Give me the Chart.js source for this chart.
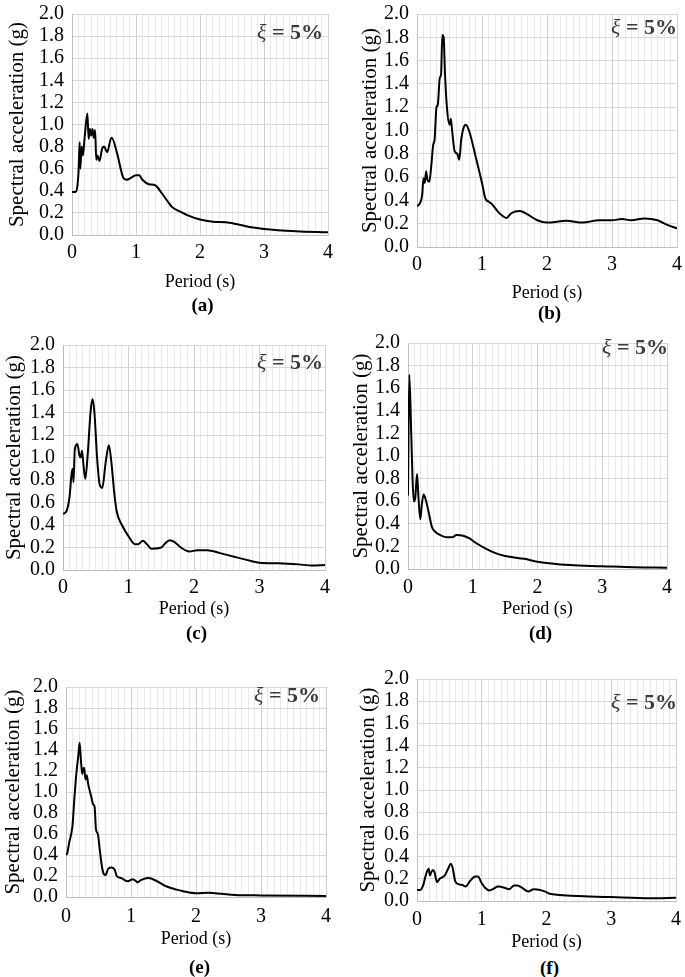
<!DOCTYPE html>
<html>
<head>
<meta charset="utf-8">
<script src="https://cdn.jsdelivr.net/npm/chart.js@4/dist/chart.umd.min.js"></script>
<style>
  html, body { margin: 0; padding: 0; background: #fff; width: 685px; height: 977px; overflow: hidden; }
  canvas { position: absolute; }
  .lab { position: absolute; font-family: 'Liberation Serif', 'Times New Roman', serif; font-weight: bold; font-size: 19px; color: #000; transform: translate(-50%, -50%); white-space: nowrap; }
  .xi { position: absolute; font-family: 'Liberation Serif', 'Times New Roman', serif; font-weight: bold; font-size: 22px; color: #3a3a3a; transform: translate(-100%, -50%); white-space: nowrap; }
  .xi i { font-weight: normal; }
</style>
</head>
<body>
<script>
// ---- Data (period in s, spectral acceleration in g) ----
const periodsA = [0,0.05,0.1,0.12,0.13,0.15,0.17,0.2,0.24,0.26,0.28,0.3,0.32,0.34,0.36,0.38,0.4,0.43,0.47,0.5,0.55,0.6,0.62,0.7,0.8,0.85,0.9,1.0,1.05,1.1,1.2,1.3,1.4,1.5,1.57,1.7,1.8,2.0,2.2,2.4,2.6,2.8,3.0,3.5,4.0];
const saA = [0.39,0.39,0.55,0.84,0.6,0.8,0.72,0.9,1.10,0.87,0.96,0.9,0.96,0.88,0.95,0.68,0.72,0.67,0.78,0.8,0.75,0.86,0.88,0.75,0.52,0.5,0.51,0.54,0.54,0.5,0.46,0.45,0.38,0.3,0.25,0.21,0.18,0.14,0.12,0.115,0.095,0.07,0.055,0.035,0.025];

const periodsB = [0,0.05,0.08,0.1,0.12,0.14,0.16,0.19,0.22,0.25,0.27,0.3,0.32,0.35,0.37,0.39,0.41,0.43,0.46,0.5,0.52,0.54,0.58,0.62,0.65,0.68,0.72,0.75,0.8,0.9,1.0,1.05,1.1,1.15,1.25,1.38,1.45,1.58,1.7,1.85,2.0,2.3,2.55,2.8,3.0,3.15,3.3,3.5,3.7,3.85,4.0];
const saB = [0.35,0.38,0.45,0.59,0.55,0.65,0.58,0.56,0.7,0.88,0.92,1.2,1.22,1.45,1.48,1.82,1.8,1.5,1.2,1.05,1.1,1.0,0.82,0.8,0.75,0.92,1.03,1.05,1.0,0.78,0.55,0.42,0.39,0.37,0.3,0.25,0.29,0.31,0.28,0.23,0.21,0.225,0.21,0.23,0.23,0.24,0.23,0.245,0.23,0.19,0.16];

const periodsC = [0,0.05,0.1,0.13,0.15,0.16,0.18,0.22,0.25,0.27,0.29,0.31,0.34,0.38,0.42,0.45,0.48,0.52,0.56,0.6,0.65,0.7,0.74,0.78,0.82,0.9,1.0,1.1,1.15,1.22,1.28,1.35,1.5,1.55,1.63,1.7,1.8,1.93,2.05,2.2,2.4,2.6,2.8,3.0,3.3,3.6,3.8,4.0];
const saC = [0.5,0.52,0.65,0.85,0.9,0.78,1.07,1.12,1.02,1.0,1.06,0.95,0.81,1.05,1.4,1.52,1.4,1.0,0.76,0.73,0.95,1.11,0.95,0.7,0.52,0.4,0.3,0.23,0.23,0.26,0.23,0.19,0.2,0.23,0.265,0.25,0.2,0.165,0.175,0.175,0.15,0.12,0.09,0.065,0.06,0.05,0.04,0.045];

const periodsD = [0,0.02,0.05,0.07,0.09,0.11,0.14,0.16,0.19,0.21,0.24,0.28,0.32,0.37,0.42,0.5,0.6,0.68,0.75,0.85,0.95,1.05,1.2,1.35,1.5,1.8,2.0,2.5,3.0,3.5,4.0];
const saD = [0.65,1.72,1.2,0.8,0.6,0.62,0.84,0.65,0.44,0.55,0.66,0.6,0.5,0.37,0.33,0.3,0.28,0.28,0.3,0.295,0.27,0.23,0.18,0.14,0.115,0.09,0.065,0.035,0.025,0.015,0.012];

const periodsE = [0,0.02,0.05,0.08,0.1,0.13,0.16,0.19,0.21,0.23,0.25,0.26,0.28,0.3,0.32,0.34,0.37,0.39,0.42,0.44,0.46,0.49,0.52,0.55,0.58,0.61,0.65,0.7,0.75,0.78,0.85,0.95,1.03,1.08,1.1,1.15,1.27,1.4,1.55,1.7,1.8,2.0,2.2,2.4,2.6,3.0,4.0];
const saE = [0.4,0.42,0.52,0.6,0.68,0.95,1.18,1.35,1.47,1.3,1.17,1.21,1.23,1.12,1.16,1.08,1.0,0.95,0.88,0.86,0.65,0.6,0.45,0.3,0.22,0.21,0.27,0.28,0.26,0.2,0.18,0.15,0.17,0.15,0.14,0.16,0.18,0.15,0.1,0.07,0.055,0.035,0.04,0.03,0.02,0.015,0.01];

const periodsF = [0,0.05,0.1,0.13,0.18,0.2,0.22,0.25,0.27,0.31,0.35,0.43,0.48,0.52,0.55,0.59,0.65,0.7,0.75,0.82,0.9,0.94,1.0,1.05,1.12,1.18,1.25,1.35,1.42,1.5,1.55,1.62,1.72,1.8,1.9,1.98,2.05,2.2,2.5,3.0,3.6,4.0];
const saF = [0.1,0.1,0.15,0.22,0.29,0.23,0.26,0.28,0.26,0.17,0.2,0.23,0.29,0.335,0.3,0.18,0.15,0.145,0.13,0.18,0.22,0.22,0.16,0.12,0.095,0.11,0.13,0.12,0.105,0.14,0.14,0.12,0.085,0.105,0.1,0.085,0.065,0.055,0.045,0.035,0.025,0.03];

const panelLabels = ['(a)', '(b)', '(c)', '(d)', '(e)', '(f)'];
const xTitle = 'Period (s)';
const yTitle = 'Spectral acceleration (g)';
const dampingText = '= 5%';

// ---- Layout (pixel geometry of each panel) ----
const panels = [
  { px: periodsA, sa: saA, cx: 0,   L: 72,  R: 333, T: 7,   B: 235, tickCY: 253, titleCY: 282, labCY: 305, yTitleCX: 17,  xiR: 323, xiCY: 32 },
  { px: periodsB, sa: saB, cx: 345, L: 417, R: 682, T: 7,   B: 247, tickCY: 265, titleCY: 293, labCY: 313, yTitleCX: 370, xiR: 677, xiCY: 27 },
  { px: periodsC, sa: saC, cx: 0,   L: 63,  R: 330, T: 338, B: 570, tickCY: 588, titleCY: 609, labCY: 633, yTitleCX: 14,  xiR: 323, xiCY: 362 },
  { px: periodsD, sa: saD, cx: 345, L: 408, R: 673, T: 336, B: 569, tickCY: 588, titleCY: 609, labCY: 633, yTitleCX: 361, xiR: 668, xiCY: 347 },
  { px: periodsE, sa: saE, cx: 0,   L: 66,  R: 333, T: 680, B: 897, tickCY: 917, titleCY: 939, labCY: 967, yTitleCX: 13,  xiR: 320, xiCY: 695 },
  { px: periodsF, sa: saF, cx: 345, L: 417, R: 682, T: 672, B: 901, tickCY: 920, titleCY: 942, labCY: 968, yTitleCX: 368, xiR: 677, xiCY: 702 }
];

const FONT = "'Liberation Serif', 'Times New Roman', serif";
const tickSize = 20, xTitleSize = 18, yTitleSize = 21;
const padTop = 13, padRight = 6;

panels.forEach((p, i) => {
  const cy = p.T - padTop;
  const bottom = p.titleCY + 14;
  const w = p.R + padRight - p.cx;
  const h = bottom - cy;
  const cv = document.createElement('canvas');
  cv.width = w; cv.height = h;
  cv.style.left = p.cx + 'px'; cv.style.top = cy + 'px';
  cv.style.width = w + 'px'; cv.style.height = h + 'px';
  document.body.appendChild(cv);

  const xLH = xTitleSize * 1.2, yLH = yTitleSize * 1.2, tLH = tickSize * 1.2;
  const yAxisW = p.L - p.cx;
  const xAxisH = bottom - p.B;

  new Chart(cv.getContext('2d'), {
    type: 'line',
    data: {
      datasets: [{
        data: p.px.map((x, k) => ({ x: x, y: p.sa[k] })),
        borderColor: '#000',
        borderWidth: 2,
        pointRadius: 0,
        fill: false,
        cubicInterpolationMode: 'monotone'
      }]
    },
    options: {
      responsive: false,
      animation: false,
      devicePixelRatio: 1,
      layout: { padding: { top: padTop, right: padRight, left: 0, bottom: 0 } },
      plugins: { legend: { display: false }, tooltip: { enabled: false } },
      scales: {
        x: {
          type: 'linear', min: 0, max: 4,
          ticks: {
            stepSize: 0.1, autoSkip: false, maxRotation: 0,
            padding: p.tickCY - p.B - tLH / 2,
            color: '#000',
            font: { family: FONT, size: tickSize },
            callback: (v) => Math.abs(v - Math.round(v)) < 1e-6 ? String(Math.round(v)) : ''
          },
          grid: {
            drawTicks: false,
            lineWidth: 1,
            color: (ctx) => {
              const v = ctx.tick ? ctx.tick.value : 0;
              return Math.abs(v - Math.round(v)) < 1e-6 ? '#d0d0d0' : '#e8e8e8';
            }
          },
          border: { color: '#bfbfbf' },
          title: {
            display: true, text: xTitle, color: '#000',
            font: { family: FONT, size: xTitleSize },
            padding: { top: 0, bottom: bottom - p.titleCY - xLH / 2 }
          },
          afterFit: (s) => { s.height = xAxisH; }
        },
        y: {
          min: 0, max: 2,
          ticks: {
            stepSize: 0.2, autoSkip: false, padding: 8, color: '#000',
            font: { family: FONT, size: tickSize },
            callback: (v) => v.toFixed(1)
          },
          grid: { drawTicks: false, color: '#d9d9d9', lineWidth: 1 },
          border: { color: '#bfbfbf' },
          title: {
            display: true, text: yTitle, color: '#000',
            font: { family: FONT, size: yTitleSize },
            padding: { top: p.yTitleCX - p.cx - yLH / 2, bottom: 0 }
          },
          afterFit: (s) => { s.width = yAxisW; }
        }
      }
    }
  });

  const lab = document.createElement('div');
  lab.className = 'lab';
  lab.textContent = panelLabels[i];
  lab.style.left = ((p.L + p.R) / 2) + 'px';
  lab.style.top = p.labCY + 'px';
  document.body.appendChild(lab);

  const xi = document.createElement('div');
  xi.className = 'xi';
  xi.innerHTML = '<i>ξ</i> ' + dampingText;
  xi.style.left = p.xiR + 'px';
  xi.style.top = p.xiCY + 'px';
  document.body.appendChild(xi);
});
</script>
</body>
</html>
